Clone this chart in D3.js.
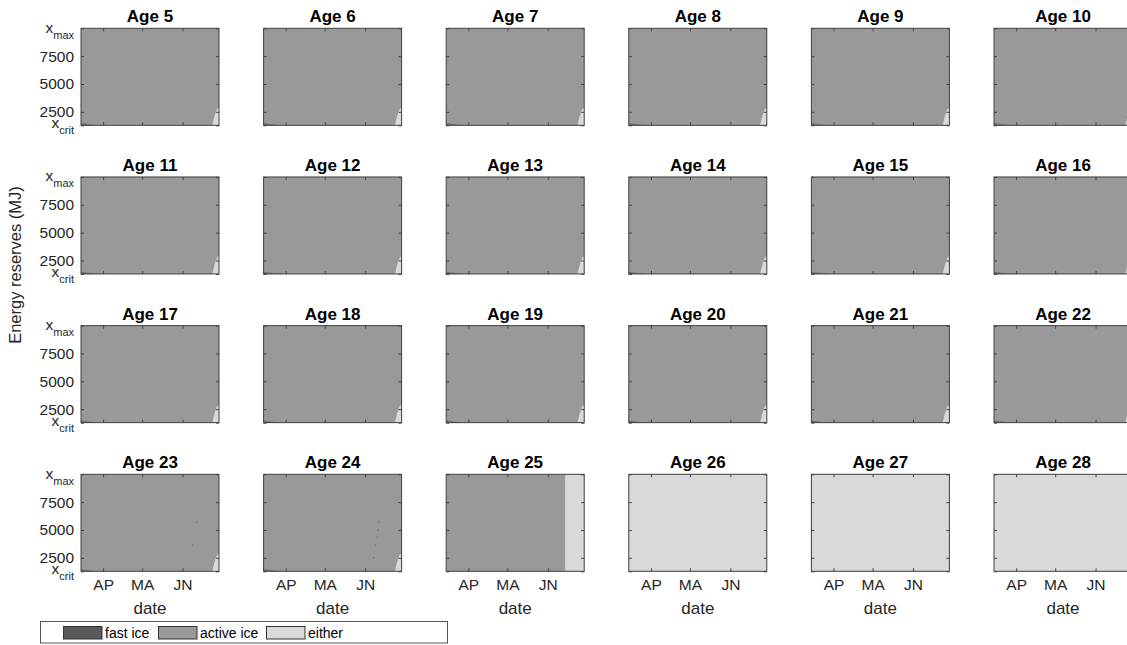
<!DOCTYPE html>
<html>
<head>
<meta charset="utf-8">
<script src="https://cdn.jsdelivr.net/npm/d3@7/dist/d3.min.js"></script>
<style>
  html, body { margin: 0; padding: 0; background: #fff; }
  svg { display: block; font-family: "Liberation Sans", Arial, Helvetica, sans-serif; }
</style>
</head>
<body>
<svg id="chart" width="1127" height="645"></svg>
<script>
// ---- data -------------------------------------------------------------
const ages = [5, 6, 7, 8, 9, 10, 11, 12, 13, 14, 15, 16, 17, 18, 19, 20, 21, 22, 23, 24, 25, 26, 27, 28];

// decision classes and their fill
const classNames  = ["fast ice", "active ice", "either"];
const classColors = ["#5a5a5a", "#999999", "#d9d9d9"];

// axis ranges: day of year (mid-March to end of June) and energy reserves (MJ)
const dayDomain    = [74, 180];
const energyDomain = [1290, 10000];

const dateTicks  = [91, 121, 152];
const dateLabels = ["AP", "MA", "JN"];

const energyTicks     = [1290, 2500, 5000, 7500, 10000];
const energyTickText  = ["x", "2500", "5000", "7500", "x"];
const energyTickSub   = ["crit", "", "", "", "max"];

// day from which "either" covers every reserve level (null = never)
const eitherFromDay = [null, null, null, null, null, null, null, null, null, null,
                       null, null, null, null, null, null, null, null, null, null,
                       165.4, 74, 74, 74];

// ages whose map has the late-season low-reserve "either" corner and the early fast-ice sliver
const cornerAges = [5, 6, 7, 8, 9, 10, 11, 12, 13, 14, 15, 16, 17, 18, 19, 20, 21, 22, 23, 24];

// upper edge of the late-season "either" corner
const cornerDay    = [174.8, 175.5, 176.5, 177.5, 178.5, 179.3, 180];
const cornerEnergy = [1290, 1600, 2100, 2450, 2750, 2850, 2850];

// upper edge of the early-season fast-ice sliver along x_crit
const sliverDay    = [74, 78, 83, 88];
const sliverEnergy = [1480, 1420, 1350, 1290];

// isolated fast-ice cells
const speckAge    = [23, 23, 24, 24, 24, 24, 24];
const speckDay    = [162.3, 159.3, 162.3, 161.6, 160.6, 159.3, 158.0];
const speckEnergy = [5730, 3650, 5730, 4990, 4330, 3640, 2490];

// ---- layout -----------------------------------------------------------
const svg = d3.select("#chart");
const nCols = 6;
const panelW = 138, panelH = 97;
const colLeft = d3.scaleLinear().domain([0, 5]).range([81, 994]);
const rowTop  = d3.scaleLinear().domain([0, 3]).range([28.3, 474.3]);

const x = d3.scaleLinear().domain(dayDomain).range([0, panelW]);
const y = d3.scaleLinear().domain(energyDomain).range([panelH, 0]);

const axisColor = "#404040";
const tickFont = 15.5;

const areaGen = d3.area()
  .x(d => x(d[0]))
  .y0(y(energyDomain[0]))
  .y1(d => y(d[1]));

ages.forEach((age, i) => {
  const col = i % nCols, row = Math.floor(i / nCols);
  const g = svg.append("g")
    .attr("transform", `translate(${colLeft(col)},${rowTop(row)})`);

  // background class: active ice
  g.append("rect")
    .attr("x", x(dayDomain[0])).attr("y", y(energyDomain[1]))
    .attr("width", x(dayDomain[1]) - x(dayDomain[0]))
    .attr("height", y(energyDomain[0]) - y(energyDomain[1]))
    .attr("fill", classColors[1]);

  if (cornerAges.includes(age)) {
    g.append("path")
      .attr("d", areaGen(d3.zip(cornerDay, cornerEnergy)))
      .attr("fill", classColors[2]);
    g.append("path")
      .attr("d", areaGen(d3.zip(sliverDay, sliverEnergy)))
      .attr("fill", classColors[0]).attr("opacity", 0.7);
  }

  const from = eitherFromDay[i];
  if (from !== null) {
    g.append("rect")
      .attr("x", x(from)).attr("y", y(energyDomain[1]))
      .attr("width", x(dayDomain[1]) - x(from))
      .attr("height", y(energyDomain[0]) - y(energyDomain[1]))
      .attr("fill", classColors[2]);
  }

  speckAge.forEach((a, k) => {
    if (a !== age) return;
    g.append("rect")
      .attr("x", x(speckDay[k])).attr("y", y(speckEnergy[k]) - 0.75)
      .attr("width", 1.3).attr("height", 1.5)
      .attr("fill", classColors[0]).attr("opacity", 0.55);
  });

  // axes with inward ticks, mirrored on all four sides
  const left = g.append("g").call(
    d3.axisLeft(y).tickValues(energyTicks).tickSize(-3).tickPadding(7)
      .tickFormat(col === 0 ? ((d, k) => energyTickText[k]) : () => ""));
  const right = g.append("g").attr("transform", `translate(${panelW},0)`)
    .call(d3.axisRight(y).tickValues(energyTicks).tickSize(-3).tickFormat(() => ""));
  const bottom = g.append("g").attr("transform", `translate(0,${panelH})`).call(
    d3.axisBottom(x).tickValues(dateTicks).tickSize(-3).tickPadding(8)
      .tickFormat(row === 3 ? ((d, k) => dateLabels[k]) : () => ""));
  const top = g.append("g")
    .call(d3.axisTop(x).tickValues(dateTicks).tickSize(-3).tickFormat(() => ""));

  [left, right, bottom, top].forEach(a => {
    a.select(".domain").remove();
    a.selectAll("line").attr("stroke", axisColor);
    a.selectAll("text")
      .attr("fill", "#262626")
      .attr("font-size", tickFont)
      .attr("font-family", "Liberation Sans, Arial, sans-serif");
  });
  bottom.selectAll("text").attr("dy", "0.71em");

  // x_crit / x_max labels with subscripts
  if (col === 0) {
    left.selectAll(".tick text").each(function (d, k) {
      const sub = energyTickSub[k];
      if (!sub) return;
      const t = d3.select(this).text(null).attr("dy", null);
      t.append("tspan").attr("dy", sub === "max" ? 4 : 2.5).text(energyTickText[k]);
      t.append("tspan").attr("font-size", 11).attr("dy", 6).text(sub);
    });
  }

  // frame
  g.append("rect")
    .attr("x", 0).attr("y", 0).attr("width", panelW).attr("height", panelH)
    .attr("fill", "none").attr("stroke", axisColor).attr("stroke-width", 1);

  // title
  g.append("text")
    .attr("x", panelW / 2).attr("y", -6)
    .attr("text-anchor", "middle")
    .attr("font-size", 17).attr("font-weight", "bold").attr("fill", "#000")
    .text(`Age ${age}`);

  if (row === 3) {
    g.append("text")
      .attr("x", panelW / 2).attr("y", panelH + 43)
      .attr("text-anchor", "middle")
      .attr("font-size", 17).attr("fill", "#262626")
      .text("date");
  }
});

// shared y label
svg.append("text")
  .attr("transform", "translate(21,265) rotate(-90)")
  .attr("text-anchor", "middle")
  .attr("font-size", 16.5).attr("fill", "#262626")
  .text("Energy reserves (MJ)");

// legend
const legend = svg.append("g");
legend.append("rect")
  .attr("x", 40.5).attr("y", 621.5).attr("width", 407).attr("height", 21.5)
  .attr("fill", "#fff").attr("stroke", "#555").attr("stroke-width", 1);
const swatchX = [63.5, 158.5, 266.5];
classNames.forEach((name, k) => {
  legend.append("rect")
    .attr("x", swatchX[k]).attr("y", 626.5).attr("width", 38.5).attr("height", 12.5)
    .attr("fill", classColors[k]).attr("stroke", "#333").attr("stroke-width", 1);
  legend.append("text")
    .attr("x", swatchX[k] + 41.5).attr("y", 638)
    .attr("font-size", 14).attr("fill", "#000")
    .text(name);
});
</script>
</body>
</html>
